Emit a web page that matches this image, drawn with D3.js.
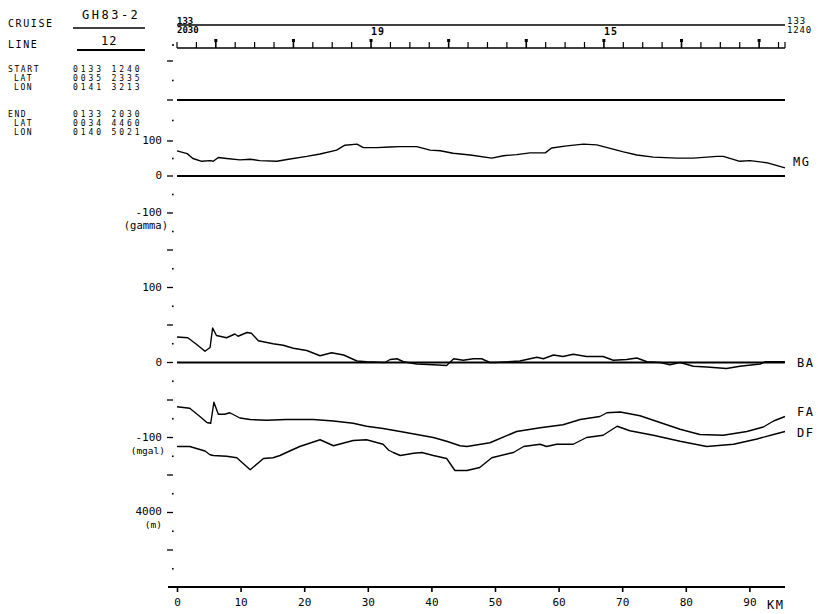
<!DOCTYPE html>
<html>
<head>
<meta charset="utf-8">
<script src="https://cdn.jsdelivr.net/npm/d3@7"></script>
<style>
  body { margin: 0; background: #fff; }
</style>
</head>
<body>
<script>
// header block
const cruise = "GH83-2";
const lineNo = "12";
const startInfo = ["0133 1240", "0035 2335", "0141 3213"];
const endInfo = ["0133 2030", "0034 4460", "0140 5021"];

// distance along track (km) and readings
const mgKm = [0, 1.6, 2.5, 3.9, 5.2, 5.7, 6.5, 7.8, 9.9, 11.5, 13, 15.7, 17.3, 20.4, 22.5, 25.1, 26.4, 28.3, 29.3, 31.4, 33.5, 35, 37.7, 39.8, 41.4, 43.4, 46.1, 49.5, 51.3, 53.4, 55.5, 57.9, 58.9, 61.3, 63.9, 66, 68.1, 70.2, 72.3, 74.9, 78.6, 81.2, 84.9, 85.9, 88.5, 90.1, 92.7, 95.6];
const mgVal = [72, 64, 50, 42, 44, 42, 53, 50, 46, 48, 44, 42, 47, 56, 63, 74, 88, 91, 81, 81, 83, 84, 84, 74, 72, 65, 60, 51, 58, 61, 66, 66, 80, 86, 91, 89, 79, 69, 60, 54, 51, 51, 56, 56, 42, 44, 38, 23];

const baKm = [0, 1.7, 3.1, 4.4, 5.2, 5.6, 6.2, 7.8, 9.1, 9.6, 11, 11.7, 12.8, 15.1, 16.7, 18.3, 20.4, 22.5, 24.3, 26.2, 28.3, 29.8, 32.7, 33.5, 34.6, 35.6, 37.7, 40.3, 42.4, 43.5, 45, 46.6, 47.9, 49.2, 50, 53.9, 56.6, 57.6, 59.2, 60.7, 62.3, 64.4, 67, 68.6, 70.7, 72.3, 73.9, 76, 77.5, 79.1, 81.2, 83.3, 86.4, 88.5, 91.7, 92.5, 95.6];
const baVal = [34, 33, 24, 15, 20, 46, 36, 33, 38, 35, 40, 39, 29, 25, 23, 19, 16, 9, 13, 10, 2, 1, 0, 4, 5, 1, -2, -3, -4, 5, 3, 5, 5, 0, 0, 2, 7, 5, 10, 8, 11, 8, 8, 3, 4, 6, 1, 0, -3, 0, -5, -6, -8, -5, -2, 1, 1];

const faKm = [0, 2, 3.6, 4.7, 5.3, 5.8, 6.5, 7.5, 8.3, 9.9, 11.5, 14.1, 17.2, 21.4, 24.6, 27.7, 29.8, 32.4, 35.1, 37.7, 40.3, 42.4, 44.5, 45.6, 49.2, 53.4, 57.1, 60.7, 63.4, 66.5, 67.6, 69.7, 72.8, 77, 79.1, 82.2, 85.9, 89.6, 92.2, 93.8, 95.6];
const faVal = [-59, -61, -72, -80, -81, -53, -69, -69, -67, -74, -76, -77, -76, -76, -78, -81, -85, -88, -92, -96, -100, -105, -111, -112, -107, -92, -87, -83, -76, -72, -67, -66, -71, -83, -89, -96, -97, -92, -86, -78, -72];

const dfKm = [0, 2, 3.6, 4.4, 5.2, 5.7, 7.8, 9.4, 11.5, 13.6, 15.1, 16.2, 17.2, 19.3, 22.5, 24.6, 27.7, 29.8, 32.4, 33.3, 34, 35.1, 37.2, 38.5, 40.3, 42.4, 43.7, 45.6, 47.6, 49.5, 52.9, 54.5, 57.1, 58.1, 59.7, 62.3, 64.4, 67, 69.2, 71.2, 74.9, 79.1, 83.3, 87.5, 91.2, 93.8, 95.6];
const dfVal = [-112, -112, -116, -118, -123, -124, -125, -127, -143, -128, -127, -124, -120, -112, -103, -111, -104, -103, -109, -117, -120, -124, -121, -120, -124, -128, -144, -144, -140, -127, -120, -112, -109, -112, -109, -109, -100, -97, -85, -91, -97, -105, -112, -109, -102, -96, -92];

// axis labels
const kmTicks = [0, 10, 20, 30, 40, 50, 60, 70, 80, 90];
const mgLabels = [100, 0, -100];
const gravLabels = [100, 0, -100];
const depthLabels = [4000];
const topLabels = [{ t: "18:00", text: "19" }, { t: "15:00", text: "15" }];

main();

function main() {
  const width = 818;
  const height = 614;

  const svg = d3.select("body").append("svg")
    .attr("width", width)
    .attr("height", height)
    .attr("font-family", "DejaVu Sans Mono, monospace")
    .attr("font-size", 10)
    .attr("fill", "#000");

  svg.append("rect").attr("width", width).attr("height", height).attr("fill", "#fff");

  const x = d3.scaleLinear().domain([0, 95.6]).range([177, 785]);
  // scanned plot, the upper channel is a little squeezed
  const yMG = d3.scaleLinear().domain([-200, -100, 0, 100, 200, 300]).range([250, 213, 176, 141, 100, 61]);
  const yGrav = d3.scaleLinear().domain([-300, 150]).range([587.5, 250]);
  const yDepth = d3.scaleLinear().domain([3000, 6000]).range([474.5, 587]);

  const parse = d3.timeParse("%H:%M");
  const tStart = parse("20:30");
  const tEnd = parse("12:40");
  const xt = d3.scaleTime().domain([tStart, tEnd]).range([177, 785]);

  // ---- header text
  const hdr = svg.append("g").attr("letter-spacing", 1.6);
  hdr.append("text").attr("x", 8).attr("y", 27).text("CRUISE");
  hdr.append("text").attr("x", 8).attr("y", 48).text("LINE");
  svg.append("text").attr("x", 82).attr("y", 19).attr("font-size", 12).attr("letter-spacing", 2.5).text(cruise);
  svg.append("text").attr("x", 101).attr("y", 45).attr("font-size", 12).attr("letter-spacing", 1).text(lineNo);
  svg.append("line").attr("x1", 73).attr("x2", 145).attr("y1", 28).attr("y2", 28).attr("stroke", "#000").attr("stroke-width", 1.5);
  svg.append("line").attr("x1", 77).attr("x2", 145).attr("y1", 50).attr("y2", 50).attr("stroke", "#000").attr("stroke-width", 2);

  const blocks = [{ title: "START", y: 72, vals: startInfo }, { title: "END", y: 117, vals: endInfo }];
  blocks.forEach(b => {
    const g = svg.append("g").attr("font-size", 8).attr("letter-spacing", 1.6);
    g.append("text").attr("x", 8).attr("y", b.y).text(b.title);
    g.append("text").attr("x", 14).attr("y", b.y + 9).text("LAT");
    g.append("text").attr("x", 14).attr("y", b.y + 18).text("LON");
    b.vals.forEach((v, i) => {
      svg.append("text").attr("x", 73).attr("y", b.y + i * 9)
        .attr("font-size", 8).attr("letter-spacing", 2.9).text(v);
    });
  });

  // ---- top time axis
  svg.append("line").attr("x1", 177).attr("x2", 785).attr("y1", 25).attr("y2", 25)
    .attr("stroke", "#000").attr("stroke-width", 1.5);
  svg.append("line").attr("x1", 177).attr("x2", 785).attr("y1", 48).attr("y2", 48)
    .attr("stroke", "#000").attr("stroke-width", 1.5);
  svg.append("circle").attr("cx", 173).attr("cy", 45).attr("r", 1).attr("fill", "#000");

  const qTicks = d3.timeMinute.every(15).range(tEnd, new Date(+tStart + 1));
  qTicks.forEach(t => {
    const big = t.getMinutes() === 0;
    const px = xt(t);
    svg.append("line").attr("x1", px).attr("x2", px)
      .attr("y1", big ? 39 : 42).attr("y2", 48)
      .attr("stroke", "#000").attr("stroke-width", big ? 1.6 : 1.2);
    if (big) {
      svg.append("rect").attr("x", px - 1.5).attr("y", 39).attr("width", 3).attr("height", 3).attr("fill", "#000");
    }
  });
  svg.append("line").attr("x1", 785).attr("x2", 785).attr("y1", 42).attr("y2", 48).attr("stroke", "#000").attr("stroke-width", 1.2);

  svg.append("text").attr("x", 177).attr("y", 24).attr("font-size", 9).attr("font-weight", "bold").text("133");
  svg.append("text").attr("x", 177).attr("y", 33).attr("font-size", 9).attr("font-weight", "bold").text("2030");
  svg.append("text").attr("x", 787).attr("y", 24).attr("font-size", 9).attr("letter-spacing", 1).text("133");
  svg.append("text").attr("x", 787).attr("y", 33).attr("font-size", 9).attr("letter-spacing", 0.8).text("1240");
  topLabels.forEach(d => {
    svg.append("text").attr("x", xt(parse(d.t))).attr("y", 35).attr("font-size", 10)
      .attr("letter-spacing", 1).attr("font-weight", "bold").text(d.text);
  });

  // ---- left tick column
  const tickCol = [];
  d3.range(-150, 301, 50).forEach(v => tickCol.push({ y: yMG(v), major: v % 100 === 0 }));
  d3.range(-275, 151, 25).forEach(v => tickCol.push({ y: yGrav(v), major: v % 50 === 0 }));
  tickCol.forEach(t => {
    if (t.major) {
      svg.append("line").attr("x1", 167).attr("x2", 173).attr("y1", t.y).attr("y2", t.y)
        .attr("stroke", "#000").attr("stroke-width", 1.3);
    } else {
      svg.append("rect").attr("x", 172).attr("y", t.y - 0.8).attr("width", 1.6).attr("height", 1.6).attr("fill", "#000");
    }
  });

  const lab = svg.append("g").attr("text-anchor", "end").attr("font-size", 11);
  mgLabels.forEach(v => lab.append("text").attr("x", 162).attr("y", yMG(v) + 3).text(v));
  gravLabels.forEach(v => lab.append("text").attr("x", 162).attr("y", yGrav(v) + 3).text(v));
  depthLabels.forEach(v => lab.append("text").attr("x", 162).attr("y", yDepth(v) + 3).text(v));
  lab.append("text").attr("x", 168).attr("y", yMG(-100) + 16).attr("font-size", 10.5).text("(gamma)");
  lab.append("text").attr("x", 165).attr("y", yGrav(-100) + 16).attr("font-size", 9.5).text("(mgal)");
  lab.append("text").attr("x", 162).attr("y", yDepth(4000) + 16).attr("font-size", 9.5).text("(m)");

  // ---- reference lines
  [yMG(200), yMG(0), yGrav(0)].forEach(py => {
    svg.append("line").attr("x1", 177).attr("x2", 785).attr("y1", py).attr("y2", py)
      .attr("stroke", "#000").attr("stroke-width", 2);
  });

  // ---- profiles
  const series = [
    { name: "MG", km: mgKm, v: mgVal, y: yMG, dy: -6 },
    { name: "BA", km: baKm, v: baVal, y: yGrav, dy: 0 },
    { name: "FA", km: faKm, v: faVal, y: yGrav, dy: -5 },
    { name: "DF", km: dfKm, v: dfVal, y: yGrav, dy: 1 }
  ];
  series.forEach(s => {
    const line = d3.line().x(i => x(s.km[i])).y(i => s.y(s.v[i]));
    svg.append("path").attr("d", line(d3.range(s.km.length)))
      .attr("fill", "none").attr("stroke", "#000").attr("stroke-width", 1.4)
      .attr("stroke-linejoin", "round");
    const last = s.v.length - 1;
    svg.append("text").attr("x", s.name === "MG" ? 793 : 797)
      .attr("y", s.y(s.name === "BA" ? 0 : s.v[last]) + s.dy + 4)
      .attr("font-size", 12).attr("letter-spacing", 1.5).text(s.name);
  });

  // ---- bottom distance axis
  const axis = svg.append("g").attr("transform", "translate(0,587)")
    .call(d3.axisBottom(x).tickValues(kmTicks).tickSize(5).tickPadding(6));
  axis.select(".domain").attr("d", "M168,0H785").attr("stroke-width", 2);
  axis.selectAll(".tick line").attr("stroke-width", 1.6);
  axis.selectAll(".tick text").attr("font-size", 11).attr("font-family", "DejaVu Sans Mono, monospace");
  svg.append("text").attr("x", 767).attr("y", 609).attr("font-size", 12).attr("letter-spacing", 1.5).text("KM");
}
</script>
</body>
</html>
